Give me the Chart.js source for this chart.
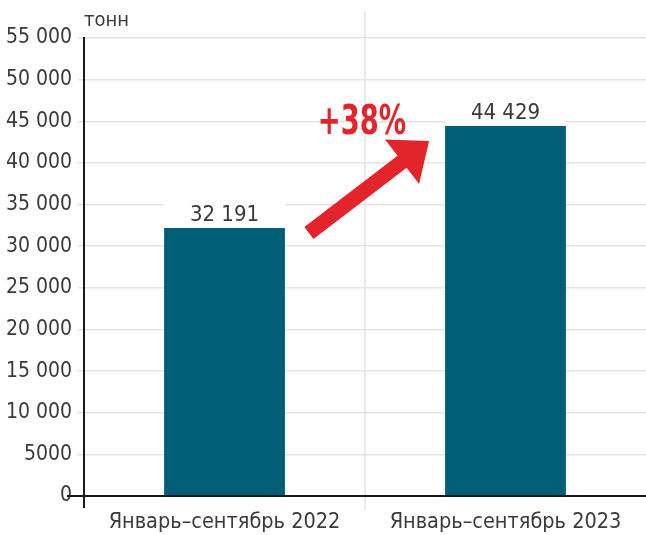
<!DOCTYPE html>
<html lang="ru">
<head>
<meta charset="utf-8">
<script src="https://cdn.jsdelivr.net/npm/chart.js@4/dist/chart.umd.min.js"></script>
<style>
    html, body { margin: 0; padding: 0; background: #fff; }
    #wrap { width: 646px; height: 535px; position: relative; }
</style>
</head>
<body>
<div id="wrap"><canvas id="chart"></canvas></div>
<script>
// данные графика
const categories = ['Январь–сентябрь 2022', 'Январь–сентябрь 2023'];
const volumes = [32191, 44429];
const yTicks = [0, 5000, 10000, 15000, 20000, 25000, 30000, 35000, 40000, 45000, 50000, 55000];
const growthLabel = '+38%';
const unitLabel = 'тонн';

const FONT = "'Liberation Sans Narrow', 'Arial Narrow', 'DejaVu Sans Condensed', sans-serif";
const BAR_COLOR = '#025d77';
const RED = '#e4242b';
const TEXT = '#3a3a3a';
const GRID = '#e3e3e3';

// 10 000 и больше — с пробелом между разрядами, 5000 без пробела
function formatNumber(v) {
    if (v < 10000) return String(v);
    return String(v).replace(/\B(?=(\d{3})+(?!\d))/g, ' ');
}

// оси, вертикальная линия между столбцами, подписи и стрелка
const decorPlugin = {
    id: 'decor',
    beforeDatasetsDraw(chart) {
        const { ctx, chartArea, scales } = chart;
        const midX = (scales.x.getPixelForValue(0) + scales.x.getPixelForValue(1)) / 2;
        ctx.save();
        ctx.strokeStyle = GRID;
        ctx.lineWidth = 1.5;
        ctx.beginPath();
        ctx.moveTo(midX, 12);
        ctx.lineTo(midX, chartArea.bottom + 14);
        ctx.stroke();
        ctx.restore();
    },
    afterDatasetsDraw(chart) {
        const { ctx, chartArea } = chart;
        const bars = chart.getDatasetMeta(0).data;

        // оси
        ctx.save();
        ctx.strokeStyle = '#1a1a1a';
        ctx.lineWidth = 2;
        ctx.beginPath();
        ctx.moveTo(chartArea.left, chartArea.top - 1);
        ctx.lineTo(chartArea.left, chartArea.bottom + 12);
        ctx.moveTo(chartArea.left - 17, chartArea.bottom);
        ctx.lineTo(chartArea.right, chartArea.bottom);
        ctx.stroke();

        // единицы измерения
        ctx.fillStyle = TEXT;
        ctx.font = '20px ' + FONT;
        ctx.textAlign = 'left';
        ctx.textBaseline = 'alphabetic';
        ctx.fillText(unitLabel, chartArea.left, 26);

        // значения над столбцами
        ctx.font = '22px ' + FONT;
        ctx.textAlign = 'center';
        bars.forEach((bar, i) => {
            const text = formatNumber(volumes[i]);
            ctx.fillStyle = '#fff';
            ctx.fillRect(bar.x - bar.width / 2, bar.y - 30, bar.width, 28);
            ctx.fillStyle = TEXT;
            ctx.fillText(text, bar.x, bar.y - 7);
        });

        // стрелка роста
        const b1 = bars[0], b2 = bars[1];
        const tail = { x: b1.x + b1.width / 2 + 24, y: b1.y + 5 };
        const tip = { x: b2.x - b2.width / 2 - 16, y: b2.y + 15 };
        const dx = tip.x - tail.x, dy = tip.y - tail.y;
        const len = Math.hypot(dx, dy);
        const ux = dx / len, uy = dy / len;
        const nx = -uy, ny = ux;
        const headLen = 34, headHalf = 28, shaftHalf = 7.5;
        const base = { x: tip.x - ux * headLen, y: tip.y - uy * headLen };
        ctx.fillStyle = RED;
        ctx.beginPath();
        ctx.moveTo(tail.x + nx * shaftHalf, tail.y + ny * shaftHalf);
        ctx.lineTo(base.x + nx * shaftHalf, base.y + ny * shaftHalf);
        ctx.lineTo(base.x + nx * headHalf, base.y + ny * headHalf);
        ctx.lineTo(tip.x, tip.y);
        ctx.lineTo(base.x - nx * headHalf, base.y - ny * headHalf);
        ctx.lineTo(base.x - nx * shaftHalf, base.y - ny * shaftHalf);
        ctx.lineTo(tail.x - nx * shaftHalf, tail.y - ny * shaftHalf);
        ctx.closePath();
        ctx.fill();

        // процент прироста, сжатый по ширине
        const gx = (b1.x + b1.width / 2 + b2.x - b2.width / 2) / 2 - 3;
        const gy = b2.y + 8;
        ctx.font = 'bold 40px ' + FONT;
        const squeeze = 0.76;
        const gw = ctx.measureText(growthLabel).width * squeeze;
        ctx.fillStyle = '#fff';
        ctx.fillRect(gx - gw / 2 - 10, gy - 22, gw + 20, 8);
        ctx.fillStyle = RED;
        ctx.translate(gx, gy);
        ctx.scale(squeeze, 1);
        ctx.fillText(growthLabel, 0, 0);
        ctx.restore();
    }
};

new Chart(document.getElementById('chart'), {
    type: 'bar',
    data: {
        labels: categories,
        datasets: [{
            data: volumes,
            backgroundColor: BAR_COLOR,
            categoryPercentage: 0.86,
            barPercentage: 0.5
        }]
    },
    options: {
        responsive: true,
        maintainAspectRatio: false,
        animation: false,
        layout: { padding: { top: 38, right: 0, left: 0, bottom: 0 } },
        plugins: {
            legend: { display: false },
            tooltip: { enabled: false }
        },
        scales: {
            x: {
                grid: { display: false },
                border: { display: false },
                ticks: {
                    color: TEXT,
                    font: { family: FONT, size: 21.5 },
                    padding: 6
                },
                afterFit(scale) { scale.height = 39; }
            },
            y: {
                min: 0,
                max: 55000,
                afterBuildTicks(scale) {
                    scale.ticks = yTicks.map(v => ({ value: v }));
                },
                grid: {
                    color: GRID,
                    lineWidth: 1.5,
                    tickLength: 6
                },
                border: { display: false },
                ticks: {
                    color: TEXT,
                    font: { family: FONT, size: 21 },
                    padding: 6,
                    callback: v => formatNumber(v)
                },
                afterFit(scale) { scale.width = 84; }
            }
        }
    },
    plugins: [decorPlugin]
});
</script>
</body>
</html>
